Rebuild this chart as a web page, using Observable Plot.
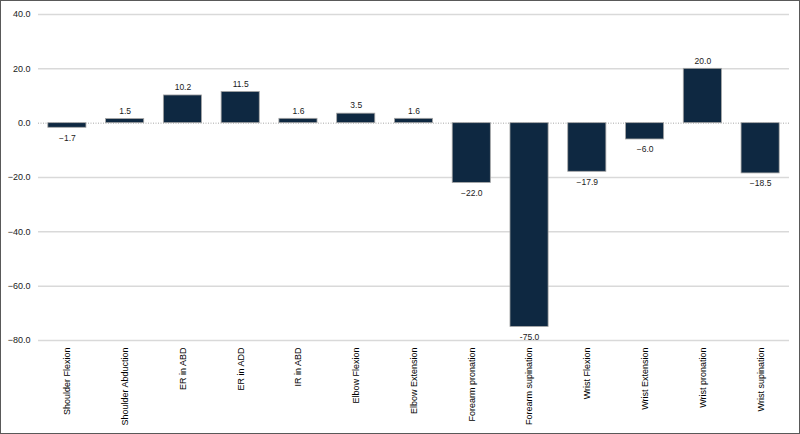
<!DOCTYPE html>
<html>
<head>
<meta charset="utf-8">
<script src="https://cdn.jsdelivr.net/npm/d3@7"></script>
<script src="https://cdn.jsdelivr.net/npm/@observablehq/plot@0.6"></script>
<style>
  html, body { margin: 0; padding: 0; background: #fff; }
  #chart svg { display: block; outline: 1.5px solid #595959; outline-offset: -1.5px; }
</style>
</head>
<body>
<div id="chart"></div>
<script>
const categories = ["Shoulder Flexion","Shoulder Abduction","ER in ABD","ER in ADD","IR in ABD","Elbow Flexion","Elbow Extension","Forearm pronation","Forearm supination","Wrist Flexion","Wrist Extension","Wrist pronation","Wrist supination"];
const values = [-1.7, 1.5, 10.2, 11.5, 1.6, 3.5, 1.6, -22.0, -75.0, -17.9, -6.0, 20.0, -18.5];
const valueLabels = ["−1.7","1.5","10.2","11.5","1.6","3.5","1.6","−22.0","-75.0","−17.9","−6.0","20.0","−18.5"];
const yTicks = [-80, -60, -40, -20, 0, 20, 40];
const gridTicks = [-80, -60, -40, -20, 20, 40];

const data = categories.map((c, i) => ({cat: c, value: values[i], label: valueLabels[i]}));

const chart = Plot.plot({
  width: 800,
  height: 434,
  marginLeft: 38,
  marginRight: 11,
  marginTop: 14,
  marginBottom: 94,
  style: {fontFamily: "'Liberation Sans', Arial, sans-serif", background: "#fff"},
  x: {domain: categories, paddingInner: 0.34, paddingOuter: 0.17, round: false, label: null},
  y: {domain: [-80, 40], label: null},
  marks: [
    Plot.ruleY(gridTicks, {stroke: "#d9d9d9", strokeWidth: 1.5}),
    Plot.ruleY([0], {stroke: "#a6a6a6", strokeDasharray: "1,1.5", strokeWidth: 1}),
    Plot.barY(data, {x: "cat", y: "value", fill: "#0e2841", stroke: "#a6a6a6", strokeWidth: 0.8}),
    Plot.text(data.filter(d => d.value >= 0), {x: "cat", y: "value", text: "label", dy: -8, fontSize: 8.5, fill: "#1a1a1a"}),
    Plot.text(data.filter(d => d.value < 0), {x: "cat", y: "value", text: "label", dy: 10, fontSize: 8.5, fill: "#1a1a1a"}),
    Plot.axisY({ticks: yTicks, tickSize: 0, tickPadding: 8, fontSize: 9, fill: "#1a1a1a",
      tickFormat: d => (d < 0 ? "−" : "") + Math.abs(d).toFixed(1)}),
    Plot.axisX({tickSize: 0, tickPadding: 7, tickRotate: -90, fontSize: 9, fill: "#000"})
  ]
});
document.getElementById("chart").appendChild(chart);
</script>
</body>
</html>
